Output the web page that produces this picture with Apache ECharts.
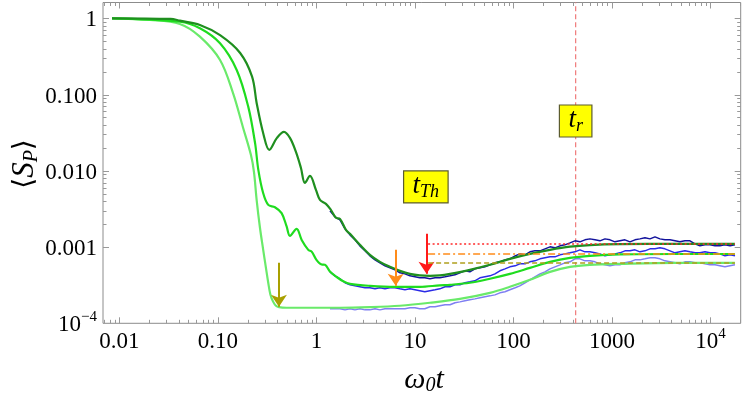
<!DOCTYPE html>
<html>
<head>
<meta charset="utf-8">
<script src="https://cdn.jsdelivr.net/npm/echarts@6/dist/echarts.min.js"></script>
<style>
  html, body { margin: 0; padding: 0; background: #fff; }
  #chart { width: 747px; height: 399px; }
</style>
</head>
<body>
<div id="chart"></div>
<script>
// data: [omega0 t, <S_P>]
const darkGreen = [
  [0.0084, 1.0], [0.033, 0.98], [0.041, 0.93], [0.0656, 0.817], [0.105, 0.60], [0.168, 0.351],
  [0.222, 0.172], [0.247, 0.0776], [0.288, 0.0311], [0.332, 0.0188], [0.397, 0.027], [0.468, 0.0324],
  [0.538, 0.027], [0.619, 0.0177], [0.696, 0.0109], [0.764, 0.00694], [0.859, 0.00857], [0.988, 0.00562],
  [1.086, 0.00416], [1.248, 0.00368], [1.40, 0.00308], [1.578, 0.00242], [1.733, 0.00234], [1.992, 0.00168],
  [2.19, 0.00149], [2.76, 0.00107], [3.49, 7.9e-4], [4.41, 6.39e-4], [5.57, 5.5e-4], [7.04, 4.87e-4],
  [8.89, 4.45e-4], [11.2, 4.25e-4], [14.2, 4.19e-4], [17.9, 4.25e-4], [22.7, 4.45e-4], [36.1, 5.02e-4],
  [57.7, 5.85e-4], [92, 7.0e-4], [147, 8.14e-4], [235, 9.19e-4], [375, 1.01e-3], [598, 1.06e-3],
  [1200, 1.09e-3], [4400, 1.1e-3], [17700, 1.1e-3]
];
const midGreen = [
  [0.0084, 1.0], [0.041, 0.90], [0.0656, 0.74], [0.105, 0.47], [0.155, 0.21], [0.203, 0.0694],
  [0.238, 0.0232], [0.257, 0.0103], [0.288, 0.00508], [0.324, 0.00357], [0.379, 0.00333], [0.443, 0.00278],
  [0.498, 0.00186], [0.538, 0.0014], [0.629, 0.00173], [0.708, 0.00124], [0.826, 9.19e-4], [0.894, 8.7e-4],
  [1.0, 6.79e-4], [1.13, 5.9e-4], [1.22, 5.85e-4], [1.37, 4.77e-4], [1.60, 4.06e-4], [1.87, 3.56e-4],
  [2.19, 3.29e-4], [3.49, 3.10e-4], [6.3, 3.01e-4], [11.2, 3.01e-4], [17.9, 3.15e-4], [22.7, 3.2e-4],
  [36.1, 3.4e-4], [57.7, 3.84e-4], [92, 4.45e-4], [147, 5.33e-4], [235, 6.39e-4], [375, 7.22e-4],
  [598, 7.67e-4], [1200, 8.0e-4], [4400, 8.1e-4], [17700, 8.1e-4]
];
const lightGreen = [
  [0.0084, 1.0], [0.0204, 0.95], [0.041, 0.842], [0.0656, 0.574], [0.105, 0.284], [0.142, 0.105],
  [0.179, 0.0376], [0.216, 0.0162], [0.232, 0.0097], [0.247, 0.00416], [0.267, 0.00179], [0.288, 9.19e-4],
  [0.307, 5.33e-4], [0.324, 3.4e-4], [0.341, 2.37e-4], [0.364, 1.91e-4], [0.388, 1.7e-4], [0.416, 1.63e-4],
  [0.498, 1.6e-4], [0.859, 1.6e-4], [1.73, 1.6e-4], [3.49, 1.63e-4], [7.04, 1.70e-4], [14.2, 1.86e-4],
  [28.6, 2.09e-4], [57.7, 2.51e-4], [92, 3.01e-4], [147, 3.72e-4], [235, 4.73e-4], [375, 5.50e-4],
  [598, 5.84e-4], [1200, 6.02e-4], [4400, 6.2e-4], [17700, 6.2e-4]
];

// noisy (simulated) curves share one time grid
const tNoisy = [
  1.371, 1.54, 1.733, 1.95, 2.19, 2.46, 2.76, 3.11, 3.49, 3.93, 4.41, 4.96, 5.57, 6.27, 7.04, 7.91,
  8.89, 10.0, 11.2, 12.6, 14.2, 16.0, 17.9, 20.2, 22.7, 25.5, 28.6, 32.2, 36.1, 40.6, 45.7, 51.4,
  57.7, 64.9, 72.9, 82, 92, 104, 116, 131, 147, 165, 186, 209, 235, 264, 297, 333, 375, 421, 473,
  532, 598, 672, 755, 849, 955, 1072, 1205, 1355, 1524, 1713, 1923, 2163, 2432, 2735, 3069, 3451,
  3881, 4364, 4898, 5508, 6194, 6966, 7816, 8790, 9885, 11120, 12470, 14030, 15780, 17740
];
const sBlueDark = [
  2.98e-3, 2.49e-3, 2.27e-3, 1.73e-3, 1.445e-3, 1.243e-3, 1.037e-3, 8.92e-4, 7.67e-4, 6.79e-4,
  6.21e-4, 5.67e-4, 5.34e-4, 5.03e-4, 4.59e-4, 4.45e-4, 4.19e-4, 4.07e-4, 3.95e-4, 3.95e-4,
  3.83e-4, 3.95e-4, 3.95e-4, 4.07e-4, 4.19e-4, 4.32e-4, 4.59e-4, 4.88e-4, 4.73e-4, 5.18e-4,
  5.34e-4, 5.50e-4, 5.84e-4, 6.21e-4, 6.40e-4, 6.79e-4, 7.00e-4, 7.67e-4, 8.14e-4, 7.90e-4,
  8.65e-4, 8.92e-4, 8.92e-4, 9.47e-4, 1.006e-3, 9.76e-4, 1.037e-3, 1.069e-3, 1.135e-3, 1.206e-3,
  1.17e-3, 1.243e-3, 1.28e-3, 1.243e-3, 1.206e-3, 1.28e-3, 1.243e-3, 1.17e-3, 1.206e-3, 1.243e-3,
  1.17e-3, 1.243e-3, 1.28e-3, 1.32e-3, 1.28e-3, 1.36e-3, 1.28e-3, 1.243e-3, 1.243e-3, 1.206e-3,
  1.17e-3, 1.206e-3, 1.206e-3, 1.10e-3, 1.037e-3, 1.069e-3, 1.069e-3, 1.037e-3, 1.037e-3, 1.069e-3,
  1.037e-3, 1.069e-3
];
const sBlue = [
  4.73e-4, 4.19e-4, 3.83e-4, 3.40e-4, 3.20e-4, 3.10e-4, 3.01e-4, 2.92e-4, 2.92e-4, 2.83e-4,
  2.92e-4, 2.83e-4, 2.92e-4, 2.92e-4, 2.83e-4, 2.75e-4, 2.83e-4, 2.75e-4, 2.67e-4, 2.59e-4,
  2.67e-4, 2.75e-4, 2.83e-4, 3.01e-4, 3.01e-4, 3.20e-4, 3.20e-4, 3.40e-4, 3.50e-4, 3.61e-4,
  3.95e-4, 4.07e-4, 4.19e-4, 4.45e-4, 4.88e-4, 5.18e-4, 5.50e-4, 5.67e-4, 6.02e-4, 6.02e-4,
  6.40e-4, 6.59e-4, 7.00e-4, 7.22e-4, 7.44e-4, 7.44e-4, 7.90e-4, 8.14e-4, 8.39e-4, 8.65e-4,
  9.19e-4, 8.65e-4, 8.65e-4, 8.39e-4, 8.14e-4, 7.67e-4, 7.90e-4, 8.14e-4, 8.39e-4, 8.92e-4,
  8.92e-4, 9.19e-4, 8.65e-4, 8.92e-4, 9.47e-4, 9.47e-4, 9.76e-4, 9.47e-4, 8.92e-4, 8.39e-4,
  8.65e-4, 8.92e-4, 8.65e-4, 8.39e-4, 8.39e-4, 8.65e-4, 8.39e-4, 8.39e-4, 8.14e-4, 7.67e-4,
  7.90e-4, 7.67e-4
];
const sBlueLight = [
  1.55e-4, 1.55e-4, 1.55e-4, 1.50e-4, 1.55e-4, 1.50e-4, 1.55e-4, 1.50e-4, 1.50e-4, 1.55e-4,
  1.50e-4, 1.55e-4, 1.55e-4, 1.55e-4, 1.55e-4, 1.55e-4, 1.60e-4, 1.60e-4, 1.55e-4, 1.55e-4,
  1.65e-4, 1.65e-4, 1.70e-4, 1.75e-4, 1.75e-4, 1.86e-4, 1.91e-4, 1.97e-4, 2.03e-4, 2.09e-4,
  2.16e-4, 2.23e-4, 2.29e-4, 2.36e-4, 2.51e-4, 2.59e-4, 2.75e-4, 2.92e-4, 3.10e-4, 3.40e-4,
  3.72e-4, 4.07e-4, 4.45e-4, 4.73e-4, 5.18e-4, 5.50e-4, 5.84e-4, 6.21e-4, 6.40e-4, 7.00e-4,
  7.00e-4, 6.59e-4, 6.59e-4, 6.40e-4, 6.02e-4, 5.84e-4, 5.67e-4, 5.84e-4, 5.84e-4, 6.21e-4,
  6.40e-4, 6.79e-4, 6.79e-4, 7.00e-4, 7.22e-4, 7.22e-4, 7.00e-4, 6.59e-4, 6.40e-4, 6.21e-4,
  6.02e-4, 6.40e-4, 6.40e-4, 6.21e-4, 6.21e-4, 6.02e-4, 5.84e-4, 5.84e-4, 5.67e-4, 5.50e-4,
  5.67e-4, 5.84e-4
];

// annotations
const tRelax = 428;
const plateauLevels = [1.1e-3, 8.1e-4, 6.2e-4];     // red dotted, orange dash-dot, olive dashed
const plateauSpan = [13.6, 17700];
const arrowT = [13.1, 6.37, 0.416];
const arrowFrom = [1.49e-3, 9.19e-4, 6.21e-4];
const arrowTo = [4.45e-4, 3.10e-4, 1.65e-4];
const boxLabels = [['t', 'r'], ['t', 'Th']];
const boxPos = [[428, 0.045], [12.9, 6.15e-3]];

// tick labels ('^' marks a superscript)
const xLabelPos = [-2, -1, 0, 1, 2, 3, 4];
const xLabelText = ['0.01', '0.10', '1', '10', '100', '1000', '10^4'];
const yLabelPos = [-4, -3, -2, -1, 0];
const yLabelText = ['10^−4', '0.001', '0.010', '0.100', '1'];

const X_MIN = -2.167, X_MAX = 4.307, Y_MIN = -4, Y_MAX = 0.207;
const FONT = 'Liberation Serif';
const lg = v => Math.log10(v);
const toLog = arr => arr.map(([t, s]) => [lg(t), lg(s)]);
const zipLog = (ts, ss) => ts.map((t, i) => [lg(t), lg(ss[i])]);

// text made of runs (base / sub / superscript), laid out with measured widths
const mctx = document.createElement('canvas').getContext('2d');
const fontOf = r => (r.italic ? 'italic ' : '') + r.size + 'px "' + (r.family || FONT) + '"';
function runWidth(r) {
  mctx.font = fontOf(r);
  return mctx.measureText(r.t).width;
}
function runsGroup(runs, x, y, align, rotation) {
  const widths = runs.map(runWidth);
  const total = widths.reduce((a, b) => a + b, 0);
  let cx = align === 'center' ? -total / 2 : align === 'right' ? -total : 0;
  const children = runs.map((r, i) => {
    const el = {
      type: 'text', x: cx, y: r.dy || 0, silent: true,
      style: {
        text: r.t, font: fontOf(r), fontFamily: r.family || FONT, fontSize: r.size,
        fontStyle: r.italic ? 'italic' : 'normal', fill: '#000', align: 'left', verticalAlign: 'middle'
      }
    };
    cx += widths[i];
    return el;
  });
  return { type: 'group', x, y, rotation: rotation || 0, children };
}
function tickRuns(label) {
  const [base, sup] = label.split('^');
  const runs = [{ t: base, size: 23 }];
  if (sup) runs.push({ t: sup, size: 15, dy: -8 });
  return runs;
}

// log-scale frame ticks
const xTicks = [], yTicks = [];
for (let d = -3; d <= 5; d++) {
  for (let k = 1; k <= 9; k++) {
    const p = d + lg(k);
    if (p >= X_MIN && p <= X_MAX) xTicks.push([p, Y_MIN, k === 1 ? 1 : 0]);
    if (p >= Y_MIN && p <= Y_MAX) yTicks.push([X_MIN, p, k === 1 ? 1 : 0]);
  }
}

const TICK = '#999999';
function tickRender(horizontal) {
  return (params, api) => {
    const cs = params.coordSys;
    const p = api.coord([api.value(0), api.value(1)]);
    const len = api.value(2) ? 6 : 3.5;
    const st = { stroke: TICK, lineWidth: 1 };
    if (horizontal) {
      const x = Math.round(p[0]) + 0.5;
      return { type: 'group', children: [
        { type: 'line', shape: { x1: x, y1: cs.y + cs.height, x2: x, y2: cs.y + cs.height - len }, style: st },
        { type: 'line', shape: { x1: x, y1: cs.y, x2: x, y2: cs.y + len }, style: st }
      ] };
    }
    const y = Math.round(p[1]) + 0.5;
    return { type: 'group', children: [
      { type: 'line', shape: { x1: cs.x, y1: y, x2: cs.x + len, y2: y }, style: st },
      { type: 'line', shape: { x1: cs.x + cs.width, y1: y, x2: cs.x + cs.width - len, y2: y }, style: st }
    ] };
  };
}

const curve = (data, color, width, z) => ({
  type: 'line', data, showSymbol: false, symbol: 'none', smooth: 0.35,
  lineStyle: { color, width }, z, silent: true
});
const noisy = (data, color) => ({
  type: 'line', data, showSymbol: false, symbol: 'none', smooth: false,
  lineStyle: { color, width: 1.5 }, z: 2, silent: true
});
const hline = (level, color, type) => ({
  type: 'line', data: [[lg(plateauSpan[0]), lg(level)], [lg(plateauSpan[1]), lg(level)]],
  showSymbol: false, symbol: 'none', lineStyle: { color, width: 1.5, type }, z: 5, silent: true
});
const arrowColors = ['#ff1a1a', '#ff8c1a', '#a9a000'];
const arrows = arrowT.map((t, i) => ({
  type: 'line', data: [], silent: true, z: 6,
  markLine: {
    silent: true, animation: false, symbol: ['none', 'arrow'], symbolSize: 12,
    label: { show: false },
    lineStyle: { color: arrowColors[i], width: 2, type: 'solid' },
    data: [[{ coord: [lg(t), lg(arrowFrom[i])] }, { coord: [lg(t), lg(arrowTo[i])] }]]
  }
}));

function buildOption() {
  return {
    animation: false,
    backgroundColor: '#fff',
    grid: { left: 103, right: 6.3, top: 2.5, bottom: 75.7, show: true, borderColor: '#8c8c8c', borderWidth: 1 },
    xAxis: {
      type: 'value', min: X_MIN, max: X_MAX,
      axisLine: { show: false }, axisTick: { show: false }, splitLine: { show: false }, axisLabel: { show: false }
    },
    yAxis: {
      type: 'value', min: Y_MIN, max: Y_MAX,
      axisLine: { show: false }, axisTick: { show: false }, splitLine: { show: false }, axisLabel: { show: false }
    },
    graphic: [
      runsGroup([{ t: 'ω', size: 30, italic: true }, { t: '0', size: 20, italic: true, dy: 6 }, { t: 't', size: 30, italic: true }],
        424, 380, 'center'),
      runsGroup([
        { t: '⟨', size: 28, family: 'DejaVu Serif' }, { t: 'S', size: 31, italic: true },
        { t: 'P', size: 20, italic: true, dy: 7 }, { t: '⟩', size: 28, family: 'DejaVu Serif' }
      ], 25, 164, 'center', Math.PI / 2)
    ],
    series: [
      { type: 'custom', data: xTicks, renderItem: tickRender(true), clip: false, silent: true, z: 1 },
      { type: 'custom', data: yTicks, renderItem: tickRender(false), clip: false, silent: true, z: 1 },
      {
        type: 'custom', clip: false, silent: true, z: 8,
        data: xLabelPos.map(v => [v, Y_MIN]),
        renderItem: (params, api) => {
          const p = api.coord([api.value(0), api.value(1)]);
          return runsGroup(tickRuns(xLabelText[params.dataIndex]), p[0], p[1] + 19, 'center');
        }
      },
      {
        type: 'custom', clip: false, silent: true, z: 8,
        data: yLabelPos.map(v => [X_MIN, v]),
        renderItem: (params, api) => {
          const p = api.coord([api.value(0), api.value(1)]);
          return runsGroup(tickRuns(yLabelText[params.dataIndex]), p[0] - 6, p[1] + 2, 'right');
        }
      },
      {
        type: 'line', data: [[lg(tRelax), Y_MIN], [lg(tRelax), Y_MAX]], showSymbol: false, symbol: 'none',
        lineStyle: { color: '#f07a7a', width: 1.2, type: [5, 3] }, z: 1, silent: true
      },
      noisy(zipLog(tNoisy, sBlueLight), '#7f7ff2'),
      noisy(zipLog(tNoisy, sBlue), '#2b2be6'),
      noisy(zipLog(tNoisy, sBlueDark), '#12129c'),
      curve(toLog(lightGreen), '#6aea6a', 2.2, 3),
      curve(toLog(midGreen), '#1fdc1f', 2.2, 3),
      curve(toLog(darkGreen), '#1f8f1f', 2.2, 3),
      hline(plateauLevels[0], '#ff2a2a', [2, 2.5]),
      hline(plateauLevels[1], '#ff8c1a', [7, 3, 2, 3]),
      hline(plateauLevels[2], '#b0a01e', [5, 3]),
      ...arrows,
      {
        type: 'custom', clip: false, silent: true, z: 9,
        data: boxPos.map(([t, s]) => [lg(t), lg(s)]),
        renderItem: (params, api) => {
          const p = api.coord([api.value(0), api.value(1)]);
          const [base, sub] = boxLabels[params.dataIndex];
          const runs = [{ t: base, size: 27, italic: true }, { t: sub, size: 18, italic: true, dy: 6 }];
          const w = runs.map(runWidth).reduce((a, b) => a + b, 0) + 18;
          const h = 32;
          return { type: 'group', children: [
            { type: 'rect', shape: { x: p[0] - w / 2, y: p[1] - h / 2, width: w, height: h },
              style: { fill: '#ffff00', stroke: '#5c5c2e', lineWidth: 1.2 } },
            runsGroup(runs, p[0], p[1] - 1, 'center')
          ] };
        }
      }
    ]
  };
}

const chart = echarts.init(document.getElementById('chart'));
chart.setOption(buildOption());

// local fonts may only be ready after the first paint: draw again once they are
const fontLoads = [
  '23px "Liberation Serif"', 'italic 23px "Liberation Serif"', '28px "DejaVu Serif"'
].map(f => document.fonts.load(f, '0.1ωtSP⟨⟩'));
Promise.all(fontLoads).then(() => chart.setOption(buildOption(), true)).catch(() => {});
setTimeout(() => chart.setOption(buildOption(), true), 250);
</script>
</body>
</html>
